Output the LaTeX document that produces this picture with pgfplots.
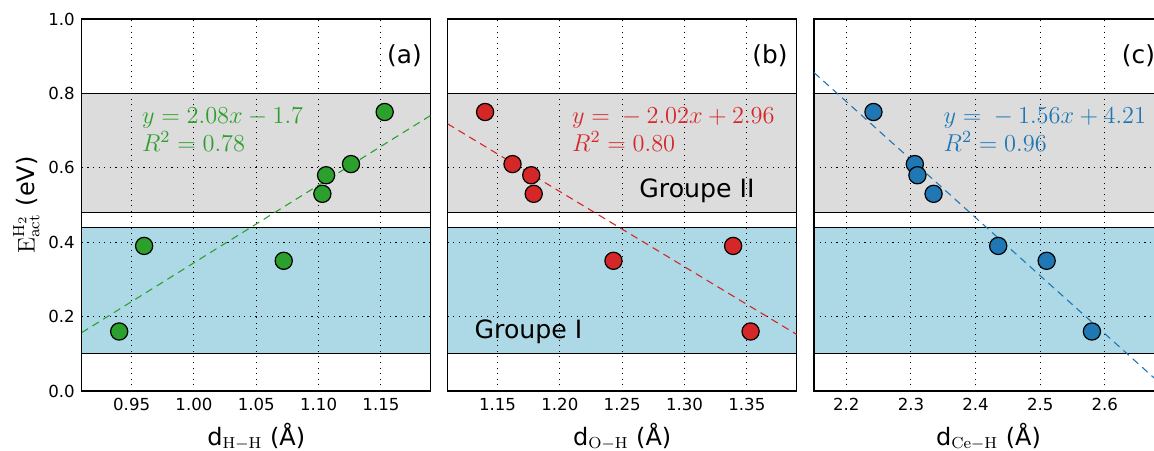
\documentclass[border=0pt]{standalone}
\usepackage{fix-cm}
\usepackage[no-math]{fontspec}
\setmainfont{DejaVu Sans}
\usepackage{pgfplots}
\pgfplotsset{compat=1.18}
\definecolor{cgreen}{HTML}{2CA02C}
\definecolor{cred}{HTML}{D62728}
\definecolor{cblue}{HTML}{1F77B4}
\definecolor{bandgray}{HTML}{DCDCDC}
\definecolor{bandblue}{HTML}{ADD8E6}
\newcommand{\tickfont}{\fontsize{8.3}{10}\selectfont}
\newcommand{\labfont}{\fontsize{12}{14}\selectfont}
\newcommand{\panfont}{\fontsize{12.4}{14}\selectfont}
\newcommand{\eqfont}{\fontsize{12.2}{14}\selectfont}
\newcommand{\grfont}{\fontsize{12.6}{15}\selectfont}
\pgfplotsset{
  panel/.style={
    set layers,
    anchor=south west,
    scale only axis, width=174.5pt, height=186pt,
    ymin=0, ymax=1, ytick={0,0.2,0.4,0.6,0.8,1.0},
    grid=major,
    major grid style={black, line width=0.5pt, dash pattern=on 0.55pt off 2.25pt},
    major tick length=0pt,
    axis line style={line width=0.65pt, black},
    tick label style={font=\tickfont},
    /pgf/number format/assume math mode=true,
    y tick label style={/pgf/number format/.cd, fixed, fixed zerofill, precision=1},
    xlabel style={font=\labfont, at={(axis description cs:0.5,-0.1452)}, anchor=base, inner sep=0pt},
    ylabel style={font=\labfont, at={(axis description cs:-0.1203,0.5)}, anchor=south, inner sep=0pt},
  },
  band/.style={on layer=axis background, draw=black, line width=0.6pt},
  fit/.style={line width=0.55pt, dash pattern=on 3.7pt off 2.6pt},
  pts/.style={only marks, mark=*, mark size=4.3pt, mark options={draw=black, line width=0.6pt, fill=#1}},
}
\begin{document}
\begin{tikzpicture}
% ---------- (a)
\begin{axis}[panel, at={(0pt,0pt)},
  xmin=0.91, xmax=1.19, xtick={0.95,1.00,1.05,1.10,1.15},
  x tick label style={/pgf/number format/.cd, fixed, fixed zerofill, precision=2},
  xlabel={d$_{\mathrm{H-H}}$ (Å)},
  ylabel={$\mathrm{E}^{\mathrm{H}_2}_{\mathrm{act}}$ (eV)}]
\addplot[band, fill=bandblue] coordinates {(0.91,0.10) (1.19,0.10) (1.19,0.44) (0.91,0.44)} -- cycle;
\addplot[band, fill=bandgray] coordinates {(0.91,0.48) (1.19,0.48) (1.19,0.80) (0.91,0.80)} -- cycle;
\addplot[fit, cgreen] coordinates {(0.91,0.157) (1.19,0.741)};
\addplot[pts=cgreen] coordinates {
  (0.940,0.16) (0.960,0.39) (1.072,0.35) (1.103,0.53) (1.106,0.58) (1.126,0.61) (1.153,0.75)};
\node[anchor=east, inner sep=0pt, font=\panfont] at (axis description cs:0.975,0.9) {(a)};
\node[anchor=base west, inner sep=0pt, text=cgreen, font=\eqfont] at (axis cs:0.958,0.72) {$y = 2.08x - 1.7$};
\node[anchor=base west, inner sep=0pt, text=cgreen, font=\eqfont] at (axis cs:0.958,0.643) {$R^2 = 0.78$};
\end{axis}
% ---------- (b)
\begin{axis}[panel, at={(182.95pt,0pt)},
  xmin=1.11, xmax=1.39, xtick={1.15,1.20,1.25,1.30,1.35},
  x tick label style={/pgf/number format/.cd, fixed, fixed zerofill, precision=2},
  yticklabels={},
  xlabel={d$_{\mathrm{O-H}}$ (Å)}]
\addplot[band, fill=bandblue] coordinates {(1.11,0.10) (1.39,0.10) (1.39,0.44) (1.11,0.44)} -- cycle;
\addplot[band, fill=bandgray] coordinates {(1.11,0.48) (1.39,0.48) (1.39,0.80) (1.11,0.80)} -- cycle;
\addplot[fit, cred] coordinates {(1.11,0.718) (1.39,0.152)};
\addplot[pts=cred] coordinates {
  (1.140,0.75) (1.162,0.61) (1.177,0.58) (1.179,0.53) (1.243,0.35) (1.339,0.39) (1.353,0.16)};
\node[anchor=east, inner sep=0pt, font=\panfont] at (axis description cs:0.975,0.9) {(b)};
\node[anchor=base west, inner sep=0pt, text=cred, font=\eqfont] at (axis cs:1.2095,0.72) {$y = {}- 2.02x + 2.96$};
\node[anchor=base west, inner sep=0pt, text=cred, font=\eqfont] at (axis cs:1.2095,0.643) {$R^2 = 0.80$};
\node[anchor=base west, inner sep=0pt, font=\grfont] at (axis cs:1.2635,0.521) {Groupe II};
\node[anchor=base west, inner sep=0pt, font=\grfont] at (axis cs:1.1313,0.1416) {Groupe I};
\end{axis}
% ---------- (c)
\begin{axis}[panel, at={(366.1pt,0pt)},
  xmin=2.15, xmax=2.69, xtick={2.2,2.3,2.4,2.5,2.6},
  x tick label style={/pgf/number format/.cd, fixed, fixed zerofill, precision=1},
  yticklabels={},
  xlabel={d$_{\mathrm{Ce-H}}$ (Å)}]
\addplot[band, fill=bandblue] coordinates {(2.15,0.10) (2.69,0.10) (2.69,0.44) (2.15,0.44)} -- cycle;
\addplot[band, fill=bandgray] coordinates {(2.15,0.48) (2.69,0.48) (2.69,0.80) (2.15,0.80)} -- cycle;
\addplot[fit, cblue] coordinates {(2.15,0.856) (2.69,0.0136)};
\addplot[pts=cblue] coordinates {
  (2.242,0.75) (2.306,0.61) (2.310,0.58) (2.335,0.53) (2.435,0.39) (2.510,0.35) (2.580,0.16)};
\node[anchor=east, inner sep=0pt, font=\panfont] at (axis description cs:0.978,0.9) {(c)};
\node[anchor=base west, inner sep=0pt, text=cblue, font=\eqfont] at (axis cs:2.350,0.72) {$y = {}- 1.56x + 4.21$};
\node[anchor=base west, inner sep=0pt, text=cblue, font=\eqfont] at (axis cs:2.350,0.643) {$R^2 = 0.96$};
\end{axis}
\pgfresetboundingbox
\useasboundingbox (-40.9pt,-29.5pt) rectangle (536.1pt,195.5pt);
\end{tikzpicture}
\end{document}
